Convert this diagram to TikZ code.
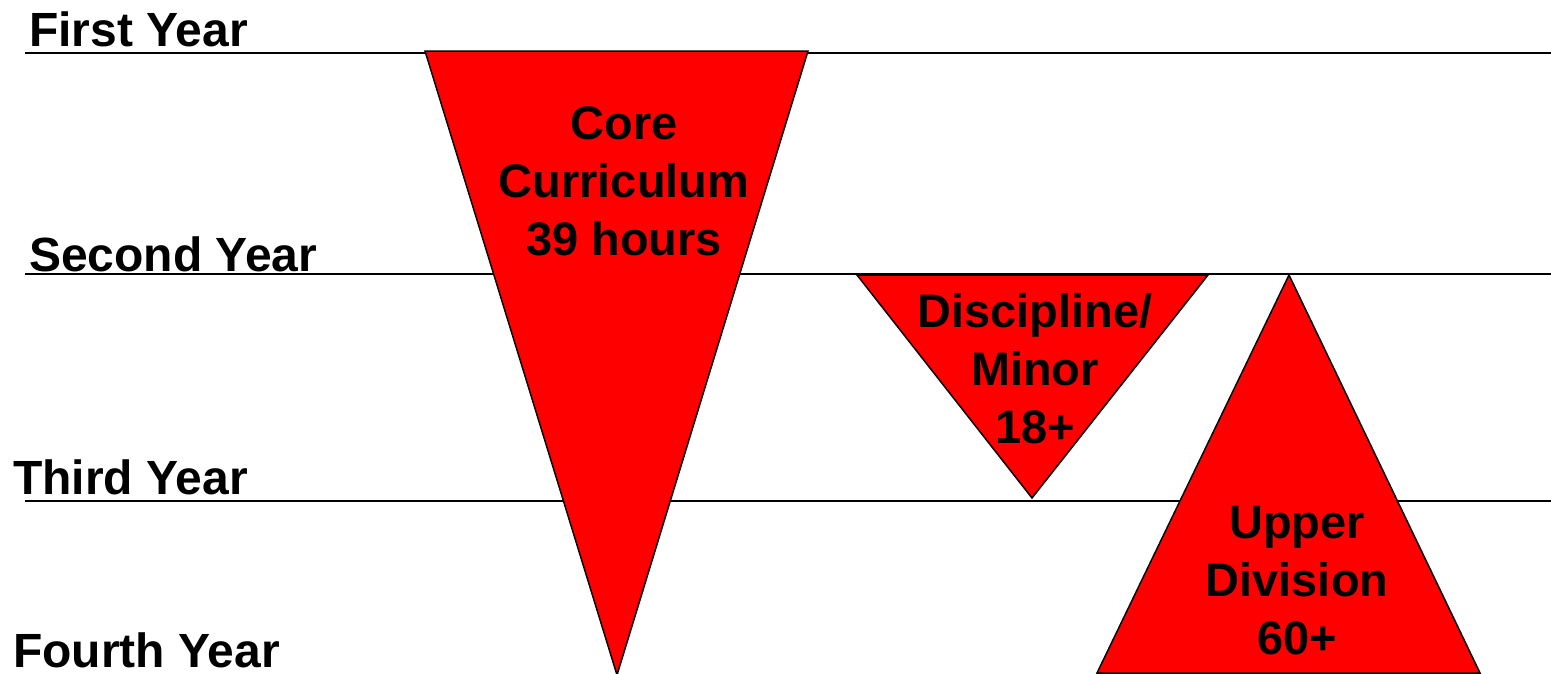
\documentclass[tikz,border=0pt]{standalone}
\usepackage{fontspec}
\setmainfont{Liberation Sans}
\begin{document}
\begin{tikzpicture}[x=1pt,y=-1pt,
  yearline/.style={line width=2pt,black},
  tri/.style={fill=red,draw=black,line width=1.5pt,line join=miter},
  yearlabel/.style={anchor=base west,inner sep=0pt,font=\bfseries\fontsize{48}{56}\selectfont},
  trilabel/.style={align=center,inner sep=0pt,font=\bfseries\fontsize{47}{58}\selectfont}]
\useasboundingbox (0,0) rectangle (1551,673);
% year lines
\coordinate (l1a) at (25,53);  \coordinate (l1b) at (1551,53);
\coordinate (l2a) at (25,274); \coordinate (l2b) at (1551,274);
\coordinate (l3a) at (25,501); \coordinate (l3b) at (1551,501);
\draw[yearline] (l1a) -- (l1b);
\draw[yearline] (l2a) -- (l2b);
\draw[yearline] (l3a) -- (l3b);
% year labels
\node[yearlabel] (y1) at (29,46) {First Year};
\node[yearlabel] (y2) at (29,271) {Second Year};
\node[yearlabel] (y3) at (13,494) {Third Year};
\node[yearlabel] (y4) at (13,667) {Fourth Year};
% triangles
\draw[tri] (425,51) -- (808,51) -- (617,675) -- cycle;
\draw[tri] (857,275) -- (1208,275) -- (1032,498) -- cycle;
\draw[tri] (1289,275) -- (1480,673) -- (1097,673) -- cycle;
% triangle labels
\node[trilabel] (core) at (624,181) {Core\\Curriculum\\39 hours};
\node[trilabel] (disc) at (1035,369) {Discipline/\\Minor\\18+};
\node[trilabel] (upper) at (1297,581) {Upper\\Division\\60+};
\end{tikzpicture}
\end{document}
